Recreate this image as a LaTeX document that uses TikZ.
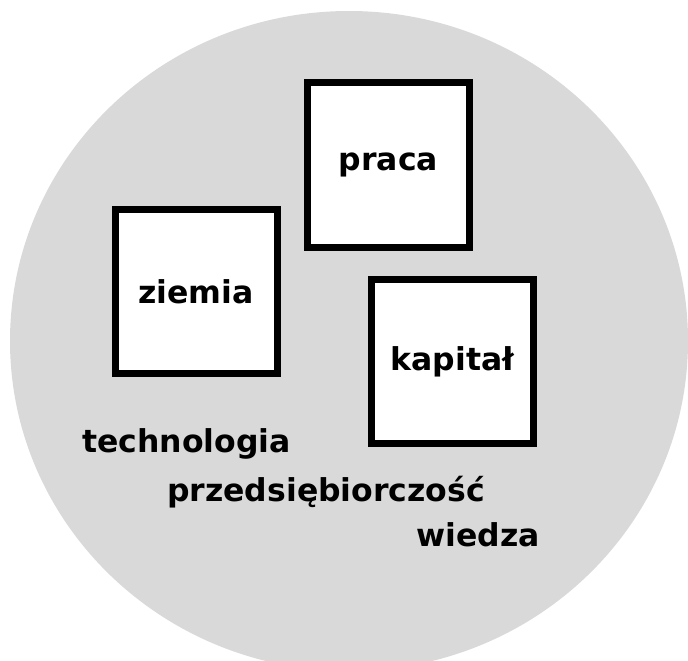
\documentclass[tikz,border=0pt]{standalone}
\usepackage{fontspec}
\setmainfont{DejaVu Sans}
\definecolor{circgray}{RGB}{217,217,217}
\begin{document}
\begin{tikzpicture}[x=1pt,y=-1pt,
  lbl/.style={font=\bfseries\fontsize{31.5}{38}\selectfont},
  factor/.style={lbl, draw=black, line width=7pt, fill=white,
    minimum width=162pt, minimum height=164.5pt, inner sep=0pt},
  extra/.style={lbl, anchor=base west, inner sep=0pt}]
\useasboundingbox (0,0) rectangle (688,661);
\clip (0,0) rectangle (688,661);
\fill[circgray] (349,341) ellipse [x radius=339, y radius=330];
\node[factor] (praca) at (388.5,165) {praca};
\node[factor] (ziemia) at (196,291.5) {ziemia};
\node[factor] (kapital) at (452.5,361.5) {kapitał};
\node[extra] (technologia) at (82,452) {technologia};
\node[extra] (przeds) at (167,501) {przedsiębiorczość};
\node[extra] (wiedza) at (416,546) {wiedza};
\end{tikzpicture}
\end{document}
